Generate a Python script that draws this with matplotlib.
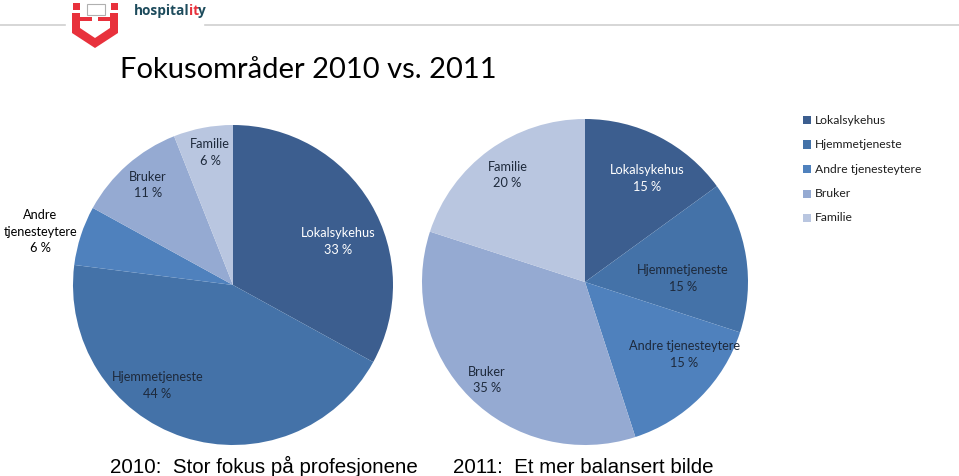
import numpy as np
import matplotlib
matplotlib.use("Agg")
import matplotlib.pyplot as plt
from matplotlib.patches import Rectangle, Polygon

# data
categories = ["Lokalsykehus", "Hjemmetjeneste", "Andre tjenesteytere", "Bruker", "Familie"]
values_2010 = [33, 44, 6, 11, 6]
values_2011 = [15, 15, 15, 35, 20]
title = "Fokusområder 2010 vs. 2011"
caption_2010 = "2010:  Stor fokus på profesjonene"
caption_2011 = "2011:  Et mer balansert bilde"

colors = ["#3c5e8f", "#4472a8", "#4f81bd", "#95aad2", "#b9c6e0"]
dark = "#1e2a3c"

W, H = 959, 476
fig = plt.figure(figsize=(W / 100, H / 100), dpi=100)
fig.patch.set_facecolor("white")

def px_axes(x0, y0, x1, y1):
    # pixel box (top-left origin) -> axes
    return fig.add_axes([x0 / W, 1 - y1 / H, (x1 - x0) / W, (y1 - y0) / H])

calibri = ["Lato", "DejaVu Sans"]

def draw_pie(ax, vals, names, label_r, label_shift, label_col):
    wedges, _ = ax.pie(vals, colors=colors, startangle=90, counterclock=False,
                       radius=1.0, wedgeprops=dict(linewidth=0))
    for i, w in enumerate(wedges):
        mid = (w.theta1 + w.theta2) / 2 + label_shift[i]
        r = label_r[i]
        x, y = r * np.cos(np.radians(mid)), r * np.sin(np.radians(mid))
        ax.text(x, y, f"{names[i]}\n{vals[i]} %", ha="center", va="center",
                fontsize=9.2, family=calibri, color=label_col[i], linespacing=1.45)
    ax.set_xlim(-1, 1)
    ax.set_ylim(-1, 1)
    ax.set_aspect("equal")
    ax.axis("off")

ax1 = px_axes(73, 125, 393, 445)
names_2010 = list(categories)
names_2010[2] = "Andre\ntjenesteytere"
draw_pie(ax1, values_2010, names_2010,
         label_r=[0.71, 0.785, 1.25, 0.82, 0.84],
         label_shift=[-8, -19, 2.5, -1, -1],
         label_col=["white", dark, "black", dark, dark])

ax2 = px_axes(422, 119, 748, 445)
draw_pie(ax2, values_2011, categories,
         label_r=[0.74, 0.60, 0.755, 0.85, 0.81],
         label_shift=[-4, -7, 9, 0, 0],
         label_col=["white", dark, dark, dark, dark])

# legend
for i, (c, lab) in enumerate(zip(colors, categories)):
    yc = 120 + i * 24.5
    fig.patches.append(Rectangle((803 / W, 1 - (yc + 4) / H), 8 / W, 8 / H,
                                 transform=fig.transFigure, facecolor=c, edgecolor="none"))
    fig.text(815 / W, 1 - yc / H, lab, ha="left", va="center", fontsize=8.7,
             family=calibri, color="#1e1e1e")

# title and captions
fig.text(120 / W, 1 - 78 / H, title, ha="left", va="baseline", fontsize=21,
         family=calibri, color="black")
fig.text(110 / W, 1 - 473 / H, caption_2010, ha="left", va="baseline", fontsize=14.8,
         family=["Liberation Sans", "DejaVu Sans"], color="black")
fig.text(453 / W, 1 - 473 / H, caption_2011, ha="left", va="baseline", fontsize=14.8,
         family=["Liberation Sans", "DejaVu Sans"], color="black")

# header line and logo
fig.add_artist(plt.Line2D([0, 65 / W], [1 - 25 / H] * 2, color="#d0d0d0", lw=1.2))
fig.add_artist(plt.Line2D([205 / W, 1], [1 - 25 / H] * 2, color="#d0d0d0", lw=1.2))
red = "#e8313c"
def fpt(x, y):
    return (x / W, 1 - y / H)
logo = [(72, 13), (80, 13), (80, 28), (95, 38), (110, 28), (110, 13), (118, 13),
        (118, 33), (95, 48), (72, 33)]
fig.patches.append(Polygon([fpt(*p) for p in logo], closed=True, transform=fig.transFigure,
                           facecolor=red, edgecolor="none"))
for cx in (76, 114):
    fig.patches.append(Rectangle(fpt(cx - 3.5, 10), 7 / W, 7 / H, transform=fig.transFigure,
                                 facecolor=red, edgecolor="none"))
fig.patches.append(Rectangle(fpt(80, 21), 12 / W, 4 / H, transform=fig.transFigure,
                             facecolor=red, edgecolor="none"))
fig.patches.append(Rectangle(fpt(98, 21), 12 / W, 4 / H, transform=fig.transFigure,
                             facecolor=red, edgecolor="none"))
fig.patches.append(Rectangle(fpt(87, 15), 18 / W, 11 / H, transform=fig.transFigure,
                             facecolor="white", edgecolor="#b0b0b0", lw=0.8))

fig.canvas.draw()
rend = fig.canvas.get_renderer()
x = 134
for part, col in (("hospital", "#1d4b5c"), ("it", red), ("y", "#1d4b5c")):
    t = fig.text(x / W, 1 - 15 / H, part, ha="left", va="baseline", fontsize=9.8,
                 family=["Open Sans", "DejaVu Sans"], weight="bold", color=col)
    x += t.get_window_extent(rend).width - 1

fig.savefig("out.png", dpi=100, facecolor="white")
